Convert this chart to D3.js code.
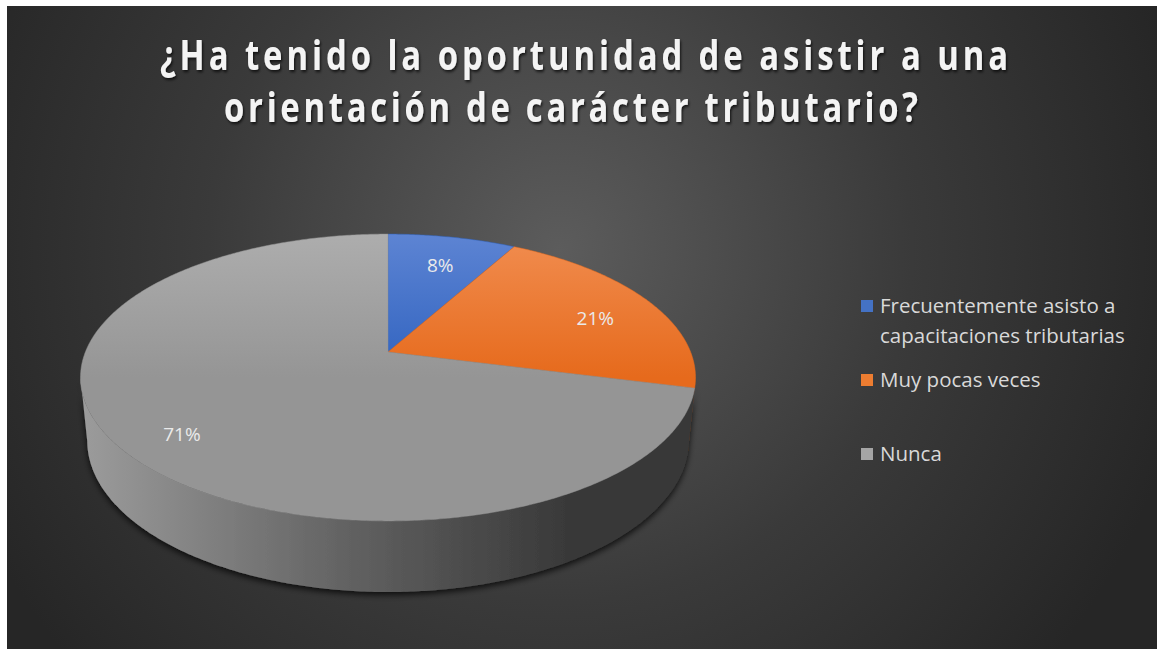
<!DOCTYPE html>
<html>
<head>
<meta charset="utf-8">
<script src="https://cdn.jsdelivr.net/npm/d3@7"></script>
<style>
  body { margin: 0; background: #ffffff; }
  svg { display: block; }
</style>
</head>
<body>
<svg id="chart"></svg>
<script>
// ====================================================================
// data
var categories = ["Frecuentemente asisto a capacitaciones tributarias", "Muy pocas veces", "Nunca"];
var legend_lines = [["Frecuentemente asisto a", "capacitaciones tributarias"], ["Muy pocas veces"], ["Nunca"]];
var values = [8, 21, 71];
var title_lines = ["¿Ha tenido la oportunidad de asistir a una", "orientación de carácter tributario?"];

// ====================================================================
// globals
var int_width = 1157, int_height = 649;
var str_font = "'Open Sans', 'DejaVu Sans', sans-serif";
var flt_title_squeeze = 0.8;
var top_colors = [["#5d84d3", "#2f62bf"], ["#f18d50", "#e66a1c"], ["#adadad", "#959595"]];
var wall_colors = [["#2d4f8c", "#1f3a6b"], ["#b0571f", "#7a3a12"], ["#9c9c9c", "#383838"]];
var legend_colors = ["#4472c4", "#ed7d31", "#a5a5a5"];

// 3d projection of the pie: unit radius, camera distance, focal, thickness
var flt_tilt = Math.asin(0.459);
var flt_dist = 5, flt_focal = 1513, flt_depth = 0.237;
var pie_cx = 388, pie_cy = 352;
var flt_label_r = 0.79, flt_label_z = -0.03;
// ====================================================================

var svg = d3.select("#chart")
  .attr("width", int_width)
  .attr("height", int_height);

var defs = svg.append("defs");

var bg_grad = defs.append("radialGradient")
  .attr("id", "bg_grad")
  .attr("gradientUnits", "userSpaceOnUse")
  .attr("cx", 560).attr("cy", 250).attr("r", 640);
bg_grad.append("stop").attr("offset", 0).attr("stop-color", "#5c5c5c");
bg_grad.append("stop").attr("offset", 0.55).attr("stop-color", "#3a3a3a");
bg_grad.append("stop").attr("offset", 1).attr("stop-color", "#262626");

var shadow = defs.append("filter").attr("id", "shadow")
  .attr("x", "-10%").attr("y", "-10%").attr("width", "120%").attr("height", "130%");
shadow.append("feDropShadow")
  .attr("dx", 0).attr("dy", 3).attr("stdDeviation", 3)
  .attr("flood-color", "#000").attr("flood-opacity", 0.75);

var txt_shadow = defs.append("filter").attr("id", "txt_shadow");
txt_shadow.append("feDropShadow")
  .attr("dx", 1.5).attr("dy", 2).attr("stdDeviation", 1.5)
  .attr("flood-color", "#000").attr("flood-opacity", 0.7);

// background
svg.append("rect")
  .attr("x", 7).attr("y", 6)
  .attr("width", int_width - 7).attr("height", int_height - 6)
  .style("fill", "url(#bg_grad)");

// ====================================================================
// title, glyphs squeezed horizontally and spaced out to the measured width
svg.append("g")
  .attr("id", "title")
  .selectAll("text")
  .data(title_lines)
  .enter()
  .append("text")
  .attr("transform", function(d, i) {
    return "translate(" + (i == 0 ? 584 : 571) + "," + (70 + i * 52) + ") scale(" + flt_title_squeeze + ",1)";
  })
  .attr("textLength", function(d, i) { return (i == 0 ? 848 : 694) / flt_title_squeeze; })
  .attr("lengthAdjust", "spacing")
  .style("text-anchor", "middle")
  .style("font-family", str_font)
  .style("font-weight", 700)
  .style("font-size", "41px")
  .style("fill", "#f4f4f4")
  .attr("filter", "url(#txt_shadow)")
  .text(function(d) { return d; });

// ====================================================================
// pie layout and projection
var pie = d3.pie().sort(null).value(function(d) { return d; });
var arcs = pie(values);

function fn_project(a, r, z) {
  // a: d3 pie angle (clockwise from 12 o'clock)
  var theta = Math.PI / 2 - a;
  var x = r * Math.cos(theta), y = r * Math.sin(theta);
  var v = y * Math.sin(flt_tilt) + z * Math.cos(flt_tilt);
  var w = y * Math.cos(flt_tilt) - z * Math.sin(flt_tilt);
  var k = flt_focal / (flt_dist + w);
  return [pie_cx + x * k, pie_cy - v * k];
}

function fn_rim(a0, a1, z) {
  var n = Math.max(2, Math.ceil(Math.abs(a1 - a0) / 0.01));
  return d3.range(n + 1).map(function(i) { return fn_project(a0 + (a1 - a0) * i / n, 1, z); });
}

// walls are visible for the near side, between the silhouettes
var flt_e = Math.cos(flt_tilt) / flt_dist;
var vis_a0 = Math.PI / 2 + Math.asin(flt_e);
var vis_a1 = 3 * Math.PI / 2 - Math.asin(flt_e);

var line = d3.line();

var wall_group = svg.append("g").attr("id", "walls").attr("filter", "url(#shadow)");

arcs.forEach(function(d, i) {
  var g = defs.append("linearGradient")
    .attr("id", "wall_" + i)
    .attr("gradientUnits", "userSpaceOnUse")
    .attr("x1", 80).attr("x2", 695).attr("y1", 0).attr("y2", 0);
  g.append("stop").attr("offset", 0).attr("stop-color", wall_colors[i][0]);
  g.append("stop").attr("offset", 0.45).attr("stop-color", d3.interpolateRgb(wall_colors[i][0], wall_colors[i][1])(0.6));
  g.append("stop").attr("offset", 0.8).attr("stop-color", wall_colors[i][1]);
  g.append("stop").attr("offset", 1).attr("stop-color", wall_colors[i][1]);

  var a0 = Math.max(d.startAngle, vis_a0), a1 = Math.min(d.endAngle, vis_a1);
  if (a1 <= a0) return;
  var pts = fn_rim(a0, a1, 0).concat(fn_rim(a1, a0, -flt_depth));
  wall_group.append("path")
    .attr("d", line(pts) + "Z")
    .style("fill", "url(#wall_" + i + ")");
});

var top_group = svg.append("g").attr("id", "tops");

arcs.forEach(function(d, i) {
  var g = defs.append("linearGradient")
    .attr("id", "top_" + i)
    .attr("gradientUnits", "userSpaceOnUse")
    .attr("x1", 0).attr("x2", 0).attr("y1", 234).attr("y2", 521);
  g.append("stop").attr("offset", 0).attr("stop-color", top_colors[i][0]);
  g.append("stop").attr("offset", 0.5).attr("stop-color", top_colors[i][1]);
  g.append("stop").attr("offset", 1).attr("stop-color", top_colors[i][1]);
});

top_group.selectAll("path")
  .data(arcs)
  .enter()
  .append("path")
  .attr("d", function(d) {
    return line([[pie_cx, pie_cy]].concat(fn_rim(d.startAngle, d.endAngle, 0))) + "Z";
  })
  .style("fill", function(d, i) { return "url(#top_" + i + ")"; })
  .style("stroke", function(d, i) { return top_colors[i][1]; })
  .style("stroke-width", 0.5);

// data labels
svg.append("g")
  .attr("id", "labels")
  .selectAll("text")
  .data(arcs)
  .enter()
  .append("text")
  .attr("x", function(d) { return fn_project((d.startAngle + d.endAngle) / 2, flt_label_r, flt_label_z)[0]; })
  .attr("y", function(d) { return fn_project((d.startAngle + d.endAngle) / 2, flt_label_r, flt_label_z)[1]; })
  .attr("dy", "0.35em")
  .style("text-anchor", "middle")
  .style("font-family", str_font)
  .style("font-size", "19px")
  .style("fill", "#eaeaea")
  .text(function(d) { return d.value + "%"; });

// ====================================================================
// legend
var y_legend = d3.scalePoint().domain(categories).range([306, 454]);

var legend = svg.append("g").attr("id", "legend");

var legend_item = legend.selectAll("g")
  .data(categories)
  .enter()
  .append("g")
  .attr("transform", function(d) { return "translate(861," + y_legend(d) + ")"; });

legend_item.append("rect")
  .attr("x", 0).attr("y", -6)
  .attr("width", 12).attr("height", 12)
  .style("fill", function(d, i) { return legend_colors[i]; });

legend_item.each(function(d, i) {
  d3.select(this).selectAll("text")
    .data(legend_lines[i])
    .enter()
    .append("text")
    .attr("x", 19)
    .attr("y", function(t, j) { return j * 30; })
    .attr("dy", "0.35em")
    .style("font-family", str_font)
    .style("font-size", "20.5px")
    .style("fill", "#d9d9d9")
    .text(function(t) { return t; });
});
</script>
</body>
</html>
